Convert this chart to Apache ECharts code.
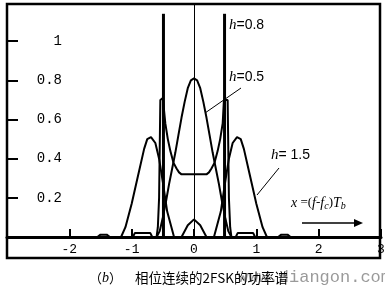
<!DOCTYPE html>
<html>
<head>
<meta charset="utf-8">
<script src="https://cdn.jsdelivr.net/npm/echarts@6/dist/echarts.min.js"></script>
<style>
html,body{margin:0;padding:0;background:#fff;}
#c{width:385px;height:289px;}
</style>
</head>
<body>
<div id="c"></div>
<script>
// ---- data ----
const xTickValues = [-2, -1, 0, 1, 2, 3];
const xTickLabels = ['-2', '-1', '0', '1', '2', '3'];
const yTickValues = [0.2, 0.4, 0.6, 0.8, 1];
const yTickLabels = ['0.2', '0.4', '0.6', '0.8', '1'];

// h = 0.5
const h05X = [-3, -0.6, -0.55, -0.5, -0.45, -0.4, -0.35, -0.3, -0.25, -0.2, -0.15, -0.1, -0.05, 0, 0.05, 0.1, 0.15, 0.2, 0.25, 0.3, 0.35, 0.4, 0.45, 0.5, 0.55, 0.6, 3];
const h05Y = [0, 0, 0.03, 0.1, 0.18, 0.27, 0.35, 0.43, 0.52, 0.61, 0.69, 0.76, 0.8, 0.81, 0.8, 0.76, 0.69, 0.61, 0.52, 0.43, 0.35, 0.27, 0.18, 0.1, 0.03, 0, 0];

// h = 0.8 (continuous part)
const h08X = [-3, -0.98, -0.95, -0.7, -0.67, -0.6, -0.58, -0.56, -0.54, -0.5, -0.48, -0.46, -0.42, -0.38, -0.33, -0.28, -0.24, -0.2, 0, 0.2, 0.24, 0.28, 0.33, 0.38, 0.42, 0.46, 0.48, 0.5, 0.54, 0.56, 0.58, 0.6, 0.67, 0.7, 0.95, 0.98, 3];
const h08Y = [0, 0, 0.02, 0.02, 0, 0, 0.05, 0.2, 0.7, 0.71, 0.7, 0.58, 0.5, 0.44, 0.38, 0.35, 0.33, 0.32, 0.32, 0.32, 0.33, 0.35, 0.38, 0.44, 0.5, 0.58, 0.7, 0.71, 0.7, 0.2, 0.05, 0, 0, 0.02, 0.02, 0, 0];
// h = 0.8 discrete lines
const h08LineX = [-0.49, 0.49];
const h08LineY = [1.14, 1.14];

// h = 1.5
const h15X = [-3, -1.55, -1.5, -1.4, -1.35, -1.17, -1.1, -1.0, -0.9, -0.8, -0.75, -0.69, -0.62, -0.56, -0.5, -0.43, -0.32, -0.2, -0.1, 0, 0.1, 0.2, 0.32, 0.43, 0.5, 0.56, 0.62, 0.69, 0.75, 0.8, 0.9, 1.0, 1.1, 1.17, 1.35, 1.4, 1.5, 1.55, 3];
const h15Y = [0, 0, 0.012, 0.012, 0, 0, 0.05, 0.17, 0.31, 0.45, 0.5, 0.51, 0.48, 0.4, 0.28, 0.13, 0, 0, 0.06, 0.09, 0.06, 0, 0, 0.13, 0.28, 0.4, 0.48, 0.51, 0.5, 0.45, 0.31, 0.17, 0.05, 0, 0, 0.012, 0.012, 0, 0];

function pairs(xs, ys) { return xs.map((x, i) => [x, ys[i]]); }
function lookup(vals, labels, v) {
  for (let i = 0; i < vals.length; i++) if (Math.abs(vals[i] - v) < 1e-6) return labels[i];
  return '';
}

const chart = echarts.init(document.getElementById('c'), null, {renderer: 'canvas'});
const lineStyle = {color: '#000', width: 2};
const serif = 'Liberation Serif';
const sans = 'Liberation Sans';
const mono = 'Liberation Mono';

chart.setOption({
  animation: false,
  backgroundColor: '#fff',
  grid: {left: 7, right: 4, top: 4, bottom: 52, outerBoundsMode: 'none'},
  xAxis: {
    type: 'value', min: -3, max: 3, interval: 1,
    axisLine: {show: true, lineStyle: {color: '#000', width: 3}},
    axisTick: {show: true, inside: true, length: 8, lineStyle: {color: '#000', width: 2}},
    splitLine: {show: false},
    axisLabel: {
      margin: 6, color: '#000', fontFamily: mono, fontSize: 13,
      formatter: v => lookup(xTickValues, xTickLabels, v)
    }
  },
  yAxis: {
    type: 'value', min: 0, max: 1.19, interval: 0.2,
    axisLine: {show: true, onZero: false, lineStyle: {color: '#000', width: 2}},
    axisTick: {show: true, inside: true, length: 11, lineStyle: {color: '#000', width: 2}},
    splitLine: {show: false},
    axisLabel: {
      inside: true, margin: 55, align: 'right', color: '#000', fontFamily: mono, fontSize: 14,
      formatter: v => lookup(yTickValues, yTickLabels, v)
    }
  },
  series: [
    {
      name: 'h=0.5', type: 'line', data: pairs(h05X, h05Y), showSymbol: false, symbol: 'none',
      lineStyle: lineStyle, z: 3,
      markLine: {
        silent: true, symbol: 'none', label: {show: false},
        lineStyle: {color: '#000', width: 1, type: 'solid'},
        data: [{xAxis: 0}]
      }
    },
    {name: 'h=0.8', type: 'line', data: pairs(h08X, h08Y), showSymbol: false, symbol: 'none', lineStyle: lineStyle, z: 3},
    {name: 'h=0.8 lines', type: 'bar', data: pairs(h08LineX, h08LineY), barWidth: 3, itemStyle: {color: '#000'}, z: 4},
    {name: 'h=1.5', type: 'line', data: pairs(h15X, h15Y), showSymbol: false, symbol: 'none', lineStyle: lineStyle, z: 3}
  ],
  graphic: [
    {type: 'rect', shape: {x: 7, y: 4, width: 373, height: 254}, style: {fill: 'none', stroke: '#000', lineWidth: 2.5}, z: 10},
    {type: 'text', x: 229, y: 25, style: {text: '{i|h}=0.8', verticalAlign: 'middle', font: '14px ' + sans, fill: '#000',
      rich: {i: {fontStyle: 'italic', fontFamily: serif, fontSize: 15}}}, z: 10},
    {type: 'text', x: 229, y: 77, style: {text: '{i|h}=0.5', verticalAlign: 'middle', font: '14px ' + sans, fill: '#000',
      rich: {i: {fontStyle: 'italic', fontFamily: serif, fontSize: 15}}}, z: 10},
    {type: 'line', shape: {x1: 241, y1: 88, x2: 205, y2: 113}, style: {stroke: '#000', lineWidth: 1}, z: 10},
    {type: 'text', x: 271, y: 155, style: {text: '{i|h}= 1.5', verticalAlign: 'middle', font: '14px ' + sans, fill: '#000',
      rich: {i: {fontStyle: 'italic', fontFamily: serif, fontSize: 15}}}, z: 10},
    {type: 'line', shape: {x1: 279, y1: 168, x2: 257, y2: 195}, style: {stroke: '#000', lineWidth: 1}, z: 10},
    {type: 'text', x: 291, y: 203, style: {
      text: '{i|x} =({i|f}-{i|f}{s|c}){i|T}{s|b}', verticalAlign: 'middle', font: '13px ' + serif, fill: '#000',
      rich: {i: {fontStyle: 'italic', fontFamily: serif, fontSize: 14}, s: {fontStyle: 'italic', fontFamily: serif, fontSize: 10, padding: [7, 0, 0, 0]}}}, z: 10},
    {type: 'line', shape: {x1: 302, y1: 223, x2: 356, y2: 223}, style: {stroke: '#000', lineWidth: 1.5}, z: 10},
    {type: 'polygon', shape: {points: [[363, 223], [354, 219], [354, 227]]}, style: {fill: '#000'}, z: 10},
    {type: 'text', x: 238, y: 277, style: {text: 'www.diangon.com', verticalAlign: 'middle', font: '17px ' + mono, fill: '#9a9a9a'}, z: 9},
    {type: 'text', x: 89, y: 278, style: {
      text: '（{i|b}）', verticalAlign: 'middle', font: '13px "Noto Sans CJK SC"', fill: '#000',
      rich: {i: {fontStyle: 'italic', fontFamily: serif, fontSize: 14}}}, z: 10},
    {type: 'text', x: 135, y: 278, style: {
      text: '相位连续的2FSK的功率谱', verticalAlign: 'middle', font: '13.5px "Noto Sans CJK SC"', fill: '#000'}, z: 10}
  ]
});
</script>
</body>
</html>
